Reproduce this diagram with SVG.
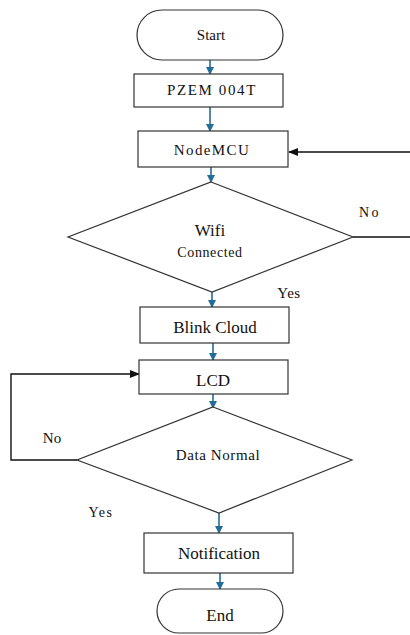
<svg xmlns="http://www.w3.org/2000/svg" width="410" height="635" viewBox="0 0 410 635" font-family="Liberation Serif, Times New Roman, serif">
<defs>
<style>
.shape{fill:#fff;stroke:#333;stroke-width:1.2}
.t{fill:#111;text-anchor:middle}
.blue{stroke:#236d96;stroke-width:1.6;fill:none}
.blk{stroke:#111;stroke-width:1.4;fill:none}
</style>
<marker id="ab" markerWidth="8" markerHeight="8" refX="7" refY="4" orient="auto" markerUnits="userSpaceOnUse"><path d="M0,0 L8,4 L0,8 Z" fill="#236d96"/></marker>
<marker id="ak" markerWidth="10" markerHeight="8" refX="9" refY="4" orient="auto" markerUnits="userSpaceOnUse"><path d="M0,0 L10,4 L0,8 Z" fill="#111"/></marker>
</defs>
<rect width="410" height="635" fill="#fff"/>
<g id="connectors">
<line class="blue" x1="210" y1="60" x2="210" y2="74" marker-end="url(#ab)"/>
<line class="blue" x1="210" y1="107" x2="210" y2="131" marker-end="url(#ab)"/>
<line class="blue" x1="211" y1="167" x2="211" y2="182" marker-end="url(#ab)"/>
<line class="blue" x1="212" y1="292" x2="212" y2="307" marker-end="url(#ab)"/>
<line class="blue" x1="213" y1="343" x2="213" y2="360" marker-end="url(#ab)"/>
<line class="blue" x1="213" y1="394" x2="213" y2="408" marker-end="url(#ab)"/>
<line class="blue" x1="219" y1="513" x2="219" y2="533" marker-end="url(#ab)"/>
<line class="blue" x1="220" y1="573" x2="220" y2="589" marker-end="url(#ab)"/>
<polyline class="blk" points="353,237 410,237"/>
<line class="blk" x1="410" y1="152" x2="289" y2="152" marker-end="url(#ak)"/>
<polyline class="blk" points="77,460 11,460 11,374 139,374" marker-end="url(#ak)"/>
<text class="t" x="370" y="217" font-size="14" letter-spacing="2.5">No</text>
<text class="t" x="289" y="298" font-size="15" letter-spacing="0.5">Yes</text>
<text class="t" x="52" y="443" font-size="15">No</text>
<text class="t" x="101" y="517" font-size="14" letter-spacing="1.5">Yes</text>
</g>
<g id="start">
<rect class="shape" x="137" y="10" width="146" height="50" rx="25"/>
<text class="t" x="211" y="40" font-size="15">Start</text>
</g>
<g id="pzem">
<rect class="shape" x="134" y="74" width="149" height="33"/>
<text class="t" x="212" y="95" font-size="15" letter-spacing="1.6">PZEM 004T</text>
</g>
<g id="nodemcu">
<rect class="shape" x="138" y="131" width="150" height="36"/>
<text class="t" x="212" y="155" font-size="15" letter-spacing="1.4">NodeMCU</text>
</g>
<g id="wifi">
<polygon class="shape" points="211,182 353,237 212,292 68,237"/>
<text class="t" x="210" y="236" font-size="17">Wifi</text>
<text class="t" x="210" y="257" font-size="14" letter-spacing="0.6">Connected</text>
</g>
<g id="blink">
<rect class="shape" x="140" y="307" width="149" height="36"/>
<text class="t" x="215" y="333" font-size="17">Blink Cloud</text>
</g>
<g id="lcd">
<rect class="shape" x="139" y="360" width="149" height="34"/>
<text class="t" x="213" y="386" font-size="17">LCD</text>
</g>
<g id="datanormal">
<polygon class="shape" points="213,407 352,460 219,513 77,460"/>
<text class="t" x="218" y="460" font-size="15" letter-spacing="0.6">Data Normal</text>
</g>
<g id="notification">
<rect class="shape" x="144" y="533" width="149" height="40"/>
<text class="t" x="219" y="559" font-size="17">Notification</text>
</g>
<g id="end">
<rect class="shape" x="157" y="589" width="126" height="44" rx="22"/>
<text class="t" x="220" y="621" font-size="17">End</text>
</g>
</svg>
